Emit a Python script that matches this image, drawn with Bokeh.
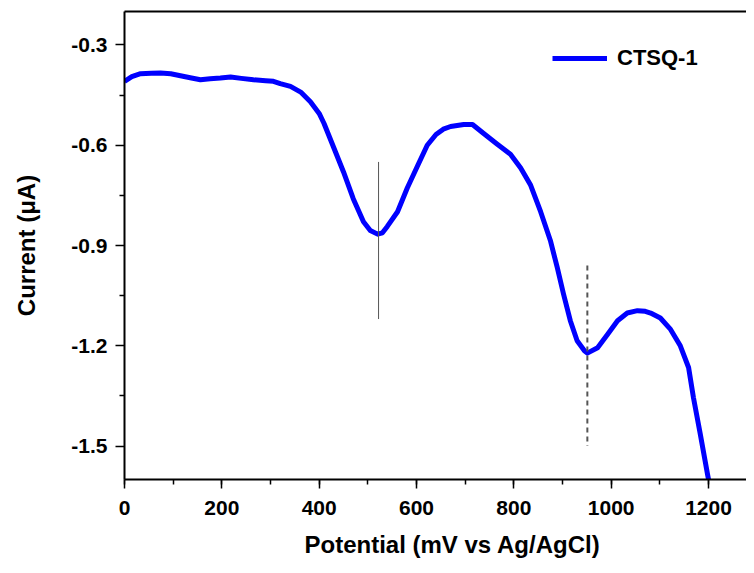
from bokeh.plotting import figure
from bokeh.models import (LinearAxis, FixedTicker, SingleIntervalTicker, Range1d,
                          Title, Legend, LegendItem, ColumnDataSource,
                          PrintfTickFormatter)
from bokeh.embed import file_html
from bokeh.resources import INLINE

# ---- data ----
potential = [0, 15, 33, 55, 74, 95, 115, 135, 156, 176, 197, 218, 240, 265, 290,
             306, 320, 341, 362, 382, 400, 410, 429, 450, 470, 491, 505, 520, 530,
             540, 561, 581, 602, 622, 640, 655, 670, 697, 715, 738, 766, 793, 814,
             834, 855, 875, 889, 902, 916, 930, 945, 951, 972, 992, 1013, 1033,
             1054, 1070, 1081, 1101, 1122, 1142, 1159, 1169, 1183, 1198, 1200]
current = [-0.409, -0.395, -0.386, -0.385, -0.384, -0.386, -0.392, -0.398, -0.404,
           -0.401, -0.399, -0.396, -0.400, -0.404, -0.407, -0.409, -0.416, -0.424,
           -0.441, -0.470, -0.505, -0.535, -0.604, -0.680, -0.760, -0.829, -0.855,
           -0.866, -0.862, -0.843, -0.799, -0.728, -0.662, -0.600, -0.568, -0.552,
           -0.544, -0.538, -0.538, -0.565, -0.597, -0.627, -0.668, -0.718, -0.799,
           -0.885, -0.965, -1.045, -1.125, -1.185, -1.215, -1.222, -1.206, -1.167,
           -1.125, -1.102, -1.095, -1.097, -1.102, -1.117, -1.151, -1.200, -1.265,
           -1.355, -1.464, -1.585, -1.600]
series_name = "CTSQ-1"

# peak marker lines
peak1_x = [522, 522]
peak1_y = [-0.65, -1.12]
peak2_x = [951, 951]
peak2_y = [-0.96, -1.50]

x_ticks_interval = 200
y_ticks = [-1.5, -1.2, -0.9, -0.6, -0.3]
y_minor = [-1.35, -1.05, -0.75, -0.45]

FONT = "Liberation Sans"

p = figure(width=746, height=572, output_backend="svg", toolbar_location=None,
           x_range=Range1d(0, 1278), y_range=Range1d(-1.6, -0.2),
           x_axis_location=None, y_axis_location=None,
           min_border_left=124, min_border_right=0, min_border_top=11,
           min_border_bottom=93)
p.outline_line_color = None
p.xgrid.visible = False
p.ygrid.visible = False
p.background_fill_color = "white"

def style(ax):
    ax.axis_line_width = 2
    ax.axis_line_color = "black"
    ax.major_tick_line_width = 1.5
    ax.minor_tick_line_width = 1.5
    ax.major_tick_in = 0
    ax.major_tick_out = 9
    ax.minor_tick_in = 0
    ax.minor_tick_out = 5
    ax.major_label_text_font = FONT
    ax.major_label_text_font_style = "bold"
    ax.major_label_text_font_size = "21px"
    ax.major_label_text_color = "black"
    ax.axis_label_text_font = FONT
    ax.axis_label_text_font_style = "bold"
    ax.axis_label_text_font_size = "24px"
    ax.axis_label_text_color = "black"

xaxis = LinearAxis(ticker=SingleIntervalTicker(interval=x_ticks_interval, num_minor_ticks=2),
                   formatter=PrintfTickFormatter(format="%d"))
style(xaxis)
xaxis.major_label_standoff = 12
p.add_layout(xaxis, "below")

yaxis = LinearAxis(ticker=FixedTicker(ticks=y_ticks, minor_ticks=y_minor),
                   formatter=PrintfTickFormatter(format="%.1f"),
                   axis_label="Current (μA)")
style(yaxis)
yaxis.major_label_standoff = 8
yaxis.axis_label_standoff = 28
p.add_layout(yaxis, "left")

top = LinearAxis(ticker=FixedTicker(ticks=[]))
style(top)
top.major_tick_out = 0
top.minor_tick_out = 0
top.major_label_text_font_size = "0px"
top.major_label_standoff = 0
p.add_layout(top, "above")

src = ColumnDataSource(dict(x=potential, y=current))
r = p.line("x", "y", source=src, line_color="#0000FF", line_width=5, line_join="round")

p.line(peak1_x, peak1_y, line_color="#555555", line_width=1)
p.line(peak2_x, peak2_y, line_color="#555555", line_width=2, line_dash="5 4")

legend = Legend(items=[LegendItem(label=series_name, renderers=[r])],
                location=(428, 408), border_line_color=None,
                background_fill_alpha=0, padding=0, margin=0,
                glyph_width=55, glyph_height=20, label_height=20,
                label_standoff=10, label_text_font=FONT, label_text_color="black",
                label_text_font_style="bold", label_text_font_size="22px")
p.add_layout(legend, "center")

xtitle = Title(text="Potential (mV vs Ag/AgCl)", align="left", offset=180,
               text_font=FONT, text_font_style="bold", text_font_size="24px",
               text_color="black", standoff=22)
p.add_layout(xtitle, "below")

open("out.html", "w").write(file_html(p, INLINE))
